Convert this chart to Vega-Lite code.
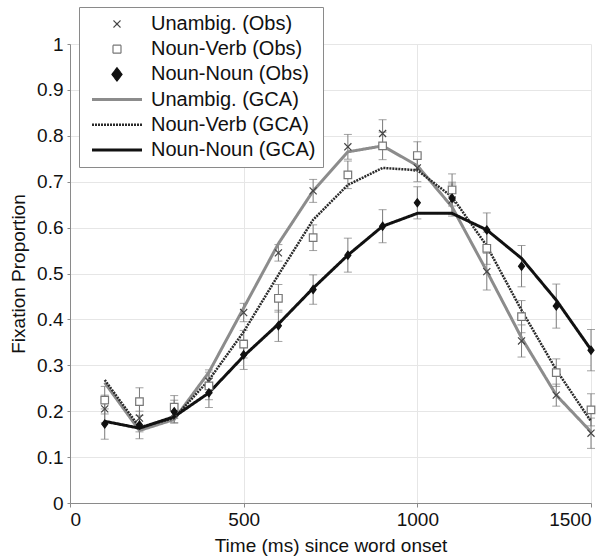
{
  "$schema": "https://vega.github.io/schema/vega-lite/v6.json",
  "width": 521,
  "height": 459,
  "autosize": {"type": "none"},
  "padding": {"left": 70, "top": 44, "right": 23, "bottom": 53},
  "background": "white",
  "config": {
    "font": "Liberation Sans",
    "view": {"stroke": null}
  },
  "datasets": {
    "obs": [
      {"t": 100, "series": "Unambig. (Obs)", "p": 0.205, "lo": 0.175, "hi": 0.235},
      {"t": 200, "series": "Unambig. (Obs)", "p": 0.185, "lo": 0.155, "hi": 0.215},
      {"t": 300, "series": "Unambig. (Obs)", "p": 0.195, "lo": 0.175, "hi": 0.215},
      {"t": 400, "series": "Unambig. (Obs)", "p": 0.265, "lo": 0.24, "hi": 0.29},
      {"t": 500, "series": "Unambig. (Obs)", "p": 0.415, "lo": 0.395, "hi": 0.435},
      {"t": 600, "series": "Unambig. (Obs)", "p": 0.545, "lo": 0.527, "hi": 0.563},
      {"t": 700, "series": "Unambig. (Obs)", "p": 0.68, "lo": 0.655, "hi": 0.705},
      {"t": 800, "series": "Unambig. (Obs)", "p": 0.776, "lo": 0.749, "hi": 0.803},
      {"t": 900, "series": "Unambig. (Obs)", "p": 0.805, "lo": 0.775, "hi": 0.835},
      {"t": 1000, "series": "Unambig. (Obs)", "p": 0.73, "lo": 0.7, "hi": 0.76},
      {"t": 1100, "series": "Unambig. (Obs)", "p": 0.66, "lo": 0.625, "hi": 0.695},
      {"t": 1200, "series": "Unambig. (Obs)", "p": 0.504, "lo": 0.464, "hi": 0.544},
      {"t": 1300, "series": "Unambig. (Obs)", "p": 0.353, "lo": 0.318, "hi": 0.388},
      {"t": 1400, "series": "Unambig. (Obs)", "p": 0.235, "lo": 0.211, "hi": 0.259},
      {"t": 1500, "series": "Unambig. (Obs)", "p": 0.152, "lo": 0.119, "hi": 0.185},
      {"t": 100, "series": "Noun-Verb (Obs)", "p": 0.224, "lo": 0.194, "hi": 0.254},
      {"t": 200, "series": "Noun-Verb (Obs)", "p": 0.221, "lo": 0.191, "hi": 0.251},
      {"t": 300, "series": "Noun-Verb (Obs)", "p": 0.209, "lo": 0.184, "hi": 0.234},
      {"t": 400, "series": "Noun-Verb (Obs)", "p": 0.255, "lo": 0.225, "hi": 0.285},
      {"t": 500, "series": "Noun-Verb (Obs)", "p": 0.346, "lo": 0.316, "hi": 0.376},
      {"t": 600, "series": "Noun-Verb (Obs)", "p": 0.446, "lo": 0.416, "hi": 0.476},
      {"t": 700, "series": "Noun-Verb (Obs)", "p": 0.578, "lo": 0.55, "hi": 0.606},
      {"t": 800, "series": "Noun-Verb (Obs)", "p": 0.715, "lo": 0.685, "hi": 0.745},
      {"t": 900, "series": "Noun-Verb (Obs)", "p": 0.778, "lo": 0.748, "hi": 0.808},
      {"t": 1000, "series": "Noun-Verb (Obs)", "p": 0.757, "lo": 0.727, "hi": 0.787},
      {"t": 1100, "series": "Noun-Verb (Obs)", "p": 0.682, "lo": 0.647, "hi": 0.717},
      {"t": 1200, "series": "Noun-Verb (Obs)", "p": 0.555, "lo": 0.52, "hi": 0.59},
      {"t": 1300, "series": "Noun-Verb (Obs)", "p": 0.406, "lo": 0.371, "hi": 0.441},
      {"t": 1400, "series": "Noun-Verb (Obs)", "p": 0.284, "lo": 0.254, "hi": 0.314},
      {"t": 1500, "series": "Noun-Verb (Obs)", "p": 0.203, "lo": 0.168, "hi": 0.238},
      {"t": 100, "series": "Noun-Noun (Obs)", "p": 0.172, "lo": 0.139, "hi": 0.205},
      {"t": 200, "series": "Noun-Noun (Obs)", "p": 0.17, "lo": 0.14, "hi": 0.2},
      {"t": 300, "series": "Noun-Noun (Obs)", "p": 0.199, "lo": 0.174, "hi": 0.224},
      {"t": 400, "series": "Noun-Noun (Obs)", "p": 0.24, "lo": 0.208, "hi": 0.272},
      {"t": 500, "series": "Noun-Noun (Obs)", "p": 0.323, "lo": 0.291, "hi": 0.355},
      {"t": 600, "series": "Noun-Noun (Obs)", "p": 0.386, "lo": 0.352, "hi": 0.42},
      {"t": 700, "series": "Noun-Noun (Obs)", "p": 0.465, "lo": 0.433, "hi": 0.497},
      {"t": 800, "series": "Noun-Noun (Obs)", "p": 0.54, "lo": 0.503, "hi": 0.577},
      {"t": 900, "series": "Noun-Noun (Obs)", "p": 0.603, "lo": 0.567, "hi": 0.639},
      {"t": 1000, "series": "Noun-Noun (Obs)", "p": 0.654, "lo": 0.619, "hi": 0.689},
      {"t": 1100, "series": "Noun-Noun (Obs)", "p": 0.664, "lo": 0.629, "hi": 0.699},
      {"t": 1200, "series": "Noun-Noun (Obs)", "p": 0.595, "lo": 0.558, "hi": 0.632},
      {"t": 1300, "series": "Noun-Noun (Obs)", "p": 0.516, "lo": 0.471, "hi": 0.561},
      {"t": 1400, "series": "Noun-Noun (Obs)", "p": 0.429, "lo": 0.381, "hi": 0.477},
      {"t": 1500, "series": "Noun-Noun (Obs)", "p": 0.333, "lo": 0.288, "hi": 0.378}
    ],
    "gca": [
      {"t": 100, "series": "Unambig. (GCA)", "fit": 0.262},
      {"t": 200, "series": "Unambig. (GCA)", "fit": 0.158},
      {"t": 300, "series": "Unambig. (GCA)", "fit": 0.182},
      {"t": 400, "series": "Unambig. (GCA)", "fit": 0.285},
      {"t": 500, "series": "Unambig. (GCA)", "fit": 0.425},
      {"t": 600, "series": "Unambig. (GCA)", "fit": 0.565},
      {"t": 700, "series": "Unambig. (GCA)", "fit": 0.68},
      {"t": 800, "series": "Unambig. (GCA)", "fit": 0.765},
      {"t": 900, "series": "Unambig. (GCA)", "fit": 0.778},
      {"t": 1000, "series": "Unambig. (GCA)", "fit": 0.735},
      {"t": 1100, "series": "Unambig. (GCA)", "fit": 0.645},
      {"t": 1200, "series": "Unambig. (GCA)", "fit": 0.505},
      {"t": 1300, "series": "Unambig. (GCA)", "fit": 0.36},
      {"t": 1400, "series": "Unambig. (GCA)", "fit": 0.235},
      {"t": 1500, "series": "Unambig. (GCA)", "fit": 0.155},
      {"t": 100, "series": "Noun-Verb (GCA)", "fit": 0.268},
      {"t": 200, "series": "Noun-Verb (GCA)", "fit": 0.165},
      {"t": 300, "series": "Noun-Verb (GCA)", "fit": 0.185},
      {"t": 400, "series": "Noun-Verb (GCA)", "fit": 0.268},
      {"t": 500, "series": "Noun-Verb (GCA)", "fit": 0.373},
      {"t": 600, "series": "Noun-Verb (GCA)", "fit": 0.497},
      {"t": 700, "series": "Noun-Verb (GCA)", "fit": 0.617},
      {"t": 800, "series": "Noun-Verb (GCA)", "fit": 0.693},
      {"t": 900, "series": "Noun-Verb (GCA)", "fit": 0.73},
      {"t": 1000, "series": "Noun-Verb (GCA)", "fit": 0.725},
      {"t": 1100, "series": "Noun-Verb (GCA)", "fit": 0.667},
      {"t": 1200, "series": "Noun-Verb (GCA)", "fit": 0.56},
      {"t": 1300, "series": "Noun-Verb (GCA)", "fit": 0.42},
      {"t": 1400, "series": "Noun-Verb (GCA)", "fit": 0.29},
      {"t": 1500, "series": "Noun-Verb (GCA)", "fit": 0.178},
      {"t": 100, "series": "Noun-Noun (GCA)", "fit": 0.178},
      {"t": 200, "series": "Noun-Noun (GCA)", "fit": 0.163},
      {"t": 300, "series": "Noun-Noun (GCA)", "fit": 0.188},
      {"t": 400, "series": "Noun-Noun (GCA)", "fit": 0.24},
      {"t": 500, "series": "Noun-Noun (GCA)", "fit": 0.32},
      {"t": 600, "series": "Noun-Noun (GCA)", "fit": 0.39},
      {"t": 700, "series": "Noun-Noun (GCA)", "fit": 0.468},
      {"t": 800, "series": "Noun-Noun (GCA)", "fit": 0.54},
      {"t": 900, "series": "Noun-Noun (GCA)", "fit": 0.603},
      {"t": 1000, "series": "Noun-Noun (GCA)", "fit": 0.631},
      {"t": 1100, "series": "Noun-Noun (GCA)", "fit": 0.631},
      {"t": 1200, "series": "Noun-Noun (GCA)", "fit": 0.595},
      {"t": 1300, "series": "Noun-Noun (GCA)", "fit": 0.533},
      {"t": 1400, "series": "Noun-Noun (GCA)", "fit": 0.442},
      {"t": 1500, "series": "Noun-Noun (GCA)", "fit": 0.334}
    ]
  },
  "layer": [
    {
      "data": {"name": "obs"},
      "mark": {"type": "errorbar", "ticks": {"size": 8, "color": "#7a7a7a"}, "color": "#7a7a7a", "thickness": 1},
      "encoding": {
        "x": {
          "field": "t", "type": "quantitative", "title": "Time (ms) since word onset",
          "scale": {"domain": [0, 1500], "nice": false, "zero": false},
          "axis": {
            "values": [0, 500, 1000, 1500], "format": "d",
            "grid": true, "gridColor": "#e6e6e6", "gridWidth": 1,
            "domainColor": "#8a8a8a", "tickColor": "#8a8a8a", "tickSize": 4,
            "labelFont": "Liberation Sans", "labelFontSize": 19, "labelColor": "#111", "labelPadding": 3,
            "titleFont": "Liberation Sans", "titleFontSize": 19, "titleFontWeight": "normal", "titleColor": "#111", "titlePadding": 7
          }
        },
        "y": {
          "field": "lo", "type": "quantitative", "title": "Fixation Proportion",
          "scale": {"domain": [0, 1], "nice": false},
          "axis": {
            "values": [0, 0.1, 0.2, 0.3, 0.4, 0.5, 0.6, 0.7, 0.8, 0.9, 1], "format": ".1~f",
            "grid": true, "gridColor": "#e6e6e6", "gridWidth": 1,
            "domainColor": "#8a8a8a", "tickColor": "#8a8a8a", "tickSize": 3,
            "labelFont": "Liberation Sans", "labelFontSize": 19, "labelColor": "#111", "labelPadding": 4,
            "titleFont": "Liberation Sans", "titleFontSize": 19, "titleFontWeight": "normal", "titleColor": "#111", "titlePadding": 8
          }
        },
        "y2": {"field": "hi"}
      }
    },
    {
      "data": {"name": "gca"},
      "mark": {"type": "line"},
      "encoding": {
        "x": {"field": "t", "type": "quantitative", "title": "Time (ms) since word onset"},
        "y": {"field": "fit", "type": "quantitative", "title": "Fixation Proportion"},
        "color": {
          "field": "series", "type": "nominal",
          "scale": {
            "domain": ["Unambig. (Obs)", "Noun-Verb (Obs)", "Noun-Noun (Obs)", "Unambig. (GCA)", "Noun-Verb (GCA)", "Noun-Noun (GCA)"],
            "range": ["#444444", "#777777", "#111111", "#8c8c8c", "#2a2a2a", "#111111"]
          },
          "legend": {
            "orient": "none", "legendX": 9, "legendY": -37,
            "title": null, "padding": 7,
            "fillColor": "white", "strokeColor": "#8a8a8a",
            "labelFont": "Liberation Sans", "labelFontSize": 20, "labelColor": "#111", "labelLimit": 400,
            "symbolSize": 100, "rowPadding": 5.2, "labelOffset": 45,
            "symbolType": "stroke",
            "encode": {
              "symbols": {
                "update": {
                  "x": {"value": 31},
                  "opacity": {"value": 1},
                  "shape": {"signal": "datum.value == 'Unambig. (Obs)' ? 'M-1,-1L1,1M-1,1L1,-1' : datum.value == 'Noun-Verb (Obs)' ? 'square' : datum.value == 'Noun-Noun (Obs)' ? 'M0,-1L0.75,0L0,1L-0.75,0Z' : 'stroke'"},
                  "size": {"signal": "datum.value == 'Unambig. (GCA)' || datum.value == 'Noun-Verb (GCA)' || datum.value == 'Noun-Noun (GCA)' ? 2500 : datum.value == 'Noun-Noun (Obs)' ? 180 : datum.value == 'Noun-Verb (Obs)' ? 64 : 50"},
                  "fill": {"signal": "datum.value == 'Noun-Verb (Obs)' ? 'white' : datum.value == 'Noun-Noun (Obs)' ? '#111111' : 'transparent'"},
                  "stroke": {"signal": "datum.value == 'Unambig. (Obs)' ? '#444444' : datum.value == 'Noun-Verb (Obs)' ? '#777777' : datum.value == 'Noun-Noun (Obs)' ? '#111111' : datum.value == 'Unambig. (GCA)' ? '#8c8c8c' : datum.value == 'Noun-Verb (GCA)' ? '#2a2a2a' : '#111111'"},
                  "strokeWidth": {"signal": "datum.value == 'Unambig. (GCA)' ? 3 : datum.value == 'Noun-Verb (GCA)' ? 2.5 : datum.value == 'Noun-Noun (GCA)' ? 3 : 1.2"},
                  "strokeDash": {"signal": "datum.value == 'Noun-Verb (GCA)' ? [2, 1] : [1, 0]"}
                }
              }
            }
          }
        },
        "strokeDash": {
          "condition": {"test": "datum.series == 'Noun-Verb (GCA)'", "value": [2, 1]},
          "value": [1, 0]
        },
        "strokeWidth": {
          "condition": {"test": "datum.series == 'Noun-Verb (GCA)'", "value": 2.5},
          "value": 3
        }
      }
    },
    {
      "data": {"name": "obs"},
      "mark": {"type": "point", "opacity": 1, "strokeWidth": 1.2},
      "encoding": {
        "x": {"field": "t", "type": "quantitative", "title": "Time (ms) since word onset"},
        "y": {"field": "p", "type": "quantitative", "title": "Fixation Proportion"},
        "shape": {
          "field": "series", "type": "nominal",
          "scale": {"domain": ["Unambig. (Obs)", "Noun-Verb (Obs)", "Noun-Noun (Obs)"], "range": ["M-1,-1L1,1M-1,1L1,-1", "square", "M0,-1L0.75,0L0,1L-0.75,0Z"]},
          "legend": null
        },
        "size": {
          "field": "series", "type": "nominal",
          "scale": {"domain": ["Unambig. (Obs)", "Noun-Verb (Obs)", "Noun-Noun (Obs)"], "range": [50, 64, 180]},
          "legend": null
        },
        "fill": {
          "field": "series", "type": "nominal",
          "scale": {"domain": ["Unambig. (Obs)", "Noun-Verb (Obs)", "Noun-Noun (Obs)"], "range": ["transparent", "white", "#111111"]},
          "legend": null
        },
        "stroke": {
          "field": "series", "type": "nominal",
          "scale": {"domain": ["Unambig. (Obs)", "Noun-Verb (Obs)", "Noun-Noun (Obs)"], "range": ["#444444", "#777777", "#111111"]},
          "legend": null
        }
      }
    }
  ]
}
